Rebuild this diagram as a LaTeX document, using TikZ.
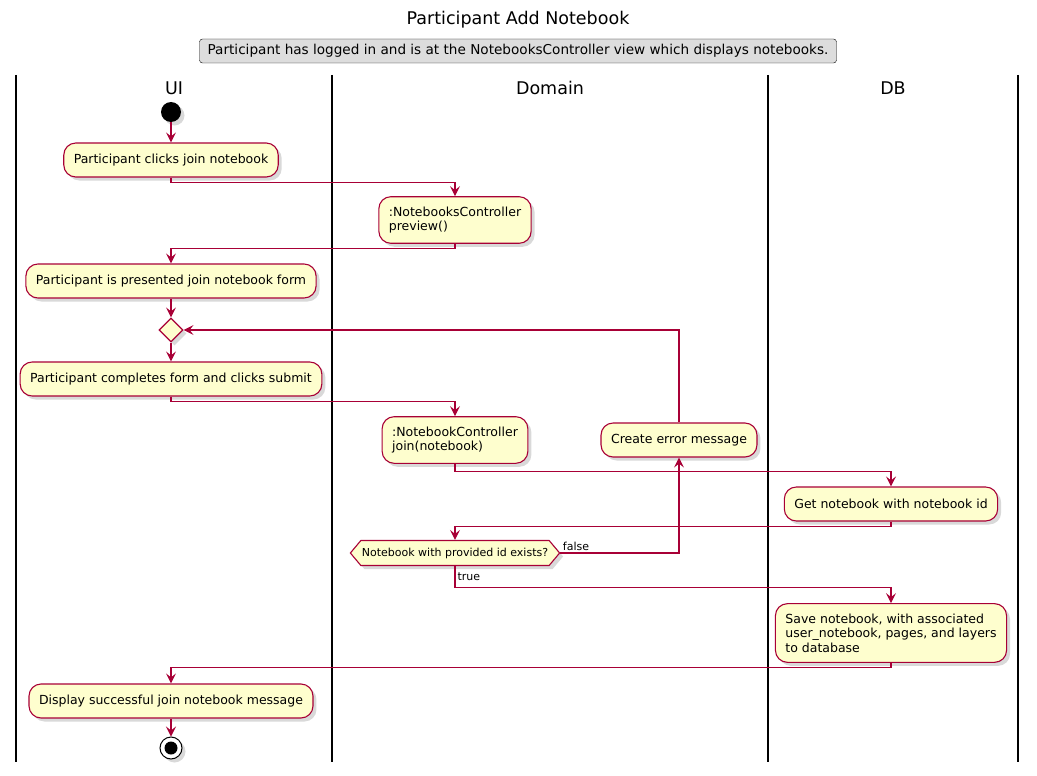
\documentclass[tikz,border=0pt]{standalone}
\usepackage{fontspec}
\setmainfont{DejaVu Sans}
\usetikzlibrary{arrows.meta,shapes.geometric,shapes.symbols,shadows,positioning}
\definecolor{actfill}{HTML}{FEFECE}
\definecolor{actline}{HTML}{A80036}
\definecolor{notefill}{HTML}{DDDDDD}
\begin{document}
\begin{tikzpicture}[x=1pt,y=-1pt,
	shade/.style={drop shadow={shadow xshift=3.5pt,shadow yshift=-3.5pt,opacity=0.3}},
	act/.style={shape=rectangle, rounded corners=12pt, draw=actline, fill=actfill, line width=1.1pt, minimum height=34pt, inner xsep=10pt, inner ysep=10pt, align=left, font=\fontsize{12.5}{14.5}\selectfont, shade},
	flow/.style={draw=actline, line width=1.1pt, -{Stealth[length=10pt,width=10pt,inset=4pt]}},
	lane/.style={line width=1.8pt},
	head/.style={font=\fontsize{17.5}{20}\selectfont},
	lbl/.style={font=\fontsize{11}{13}\selectfont, inner sep=2pt}]
	\useasboundingbox (0,0) rectangle (1037,776);
	
	\draw (518,20) node[head](title){Participant Add Notebook};
	\draw (518,51) node[draw = black, fill=notefill, rounded corners=3pt, minimum width=637pt, minimum height=24pt, inner sep=2pt, font=\fontsize{13.6}{16}\selectfont](pre){Participant has logged in and is at the NotebooksController view which displays notebooks.};
	
	\draw[lane] (16,75) -- (16,762);
	\draw[lane] (332,75) -- (332,762);
	\draw[lane] (768,75) -- (768,762);
	\draw[lane] (1018,75) -- (1018,762);
	\draw (174,88) node[head](ui){UI};
	\draw (550,88) node[head](domain){Domain};
	\draw (893,88) node[head](db){DB};
	
	\draw (171,112) node[shape=circle, fill=black, minimum size=20pt, inner sep=0pt, shade](start){};
	\draw (171,160) node[act](click){Participant clicks join notebook};
	\draw (455,220) node[act](preview){:NotebooksController\\preview()};
	\draw (171,281) node[act](form){Participant is presented join notebook form};
	\draw (171,330) node[shape=diamond, draw=actline, fill=actfill, line width=1.1pt, minimum width=24pt, minimum height=24pt, inner sep=0pt, shade](merge){};
	\draw (171,379) node[act](submit){Participant completes form and clicks submit};
	\draw (455,440) node[act](join){:NotebookController\\join(notebook)};
	\draw (679,440) node[act](error){Create error message};
	\draw (891,504) node[act](get){Get notebook with notebook id};
	\draw (455,553) node[shape=signal, signal to=east and west, signal pointer angle=100, draw=actline, fill=actfill, line width=1.1pt, minimum height=25pt, inner xsep=1pt, inner ysep=2pt, font=\fontsize{11}{13}\selectfont, shade](exists){Notebook with provided id exists?};
	\draw (891,633) node[act](save){Save notebook, with associated\\user\_notebook, pages, and layers\\to database};
	\draw (171,701) node[act](done){Display successful join notebook message};
	\draw (171,748) node[shape=circle, draw=black, fill=white, line width=1pt, minimum size=22pt, inner sep=0pt, shade](stop){};
	\fill (stop.center) circle (6.5pt);
	
	\draw[flow] (start) -- (click);
	\draw[flow] (click.south) -- ++(0,5) -| (preview.north);
	\draw[flow] (preview.south) -- ++(0,5) -| (form.north);
	\draw[flow] (form) -- (merge);
	\draw[flow] (merge) -- (submit);
	\draw[flow] (submit.south) -- ++(0,5) -| (join.north);
	\draw[flow] (join.south) -- ++(0,8) -| (get.north);
	\draw[flow] (get.south) -- ++(0,5) -| (exists.north);
	\draw[flow] (exists.east) node[lbl, anchor=south west]{false} -| (error.south);
	\draw[flow] (error.north) |- (merge.east);
	\draw[flow] (exists.south) -- ++(0,21) node[lbl, pos=0.5, right]{true} -| (save.north);
	\draw[flow] (save.south) -- ++(0,5) -| (done.north);
	\draw[flow] (done) -- (stop);
\end{tikzpicture}
\end{document}
